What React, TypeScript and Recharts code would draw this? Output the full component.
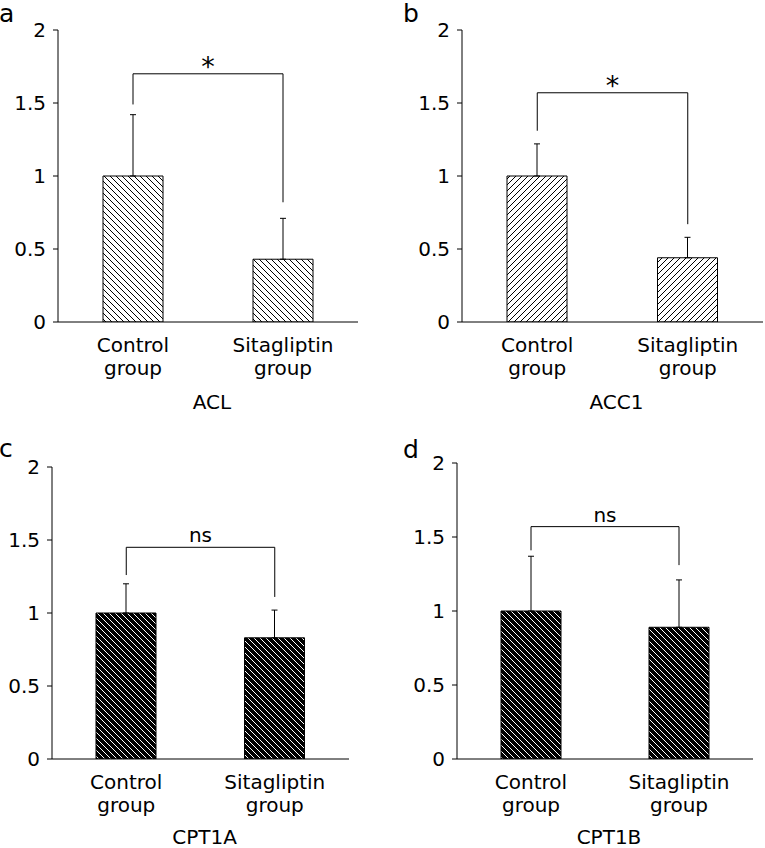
import React from 'react';
import { BarChart, Bar, XAxis, YAxis, ErrorBar, ReferenceLine } from 'recharts';

const categories = ['Control group', 'Sitagliptin group'];
const yTicks = [0, 0.5, 1, 1.5, 2];
const boundaryTicks = [0, 1, 2];

const aclMeans = [1.0, 0.43];
const aclErrors = [0.42, 0.28];
const acc1Means = [1.0, 0.44];
const acc1Errors = [0.22, 0.14];
const cpt1aMeans = [1.0, 0.83];
const cpt1aErrors = [0.2, 0.19];
const cpt1bMeans = [1.0, 0.89];
const cpt1bErrors = [0.37, 0.32];

// [left leg end, bracket top, right leg end]
const aclBracket = [1.49, 1.7, 0.82];
const acc1Bracket = [1.31, 1.57, 0.67];
const cpt1aBracket = [1.26, 1.45, 1.11];
const cpt1bBracket = [1.41, 1.57, 1.31];

const FONT = '"DejaVu Sans", Verdana, sans-serif';
const FS = 20;

const buildData = (means: number[], errors: number[]) =>
  categories.map((c, i) => ({ name: c, value: means[i], err: [0, errors[i]] }));

const CategoryTick = (props: any) => {
  const { x, y, payload } = props;
  const parts = String(payload.value).split(' ');
  return (
    <text x={x} y={y} textAnchor="middle" fontSize={FS} fontFamily={FONT} fill="#000">
      <tspan x={x} y={y + 25}>{parts[0]}</tspan>
      <tspan x={x} y={y + 48}>{parts[1]}</tspan>
    </text>
  );
};

const AxisTitle = (props: any) => {
  const { viewBox, value, dy } = props;
  if (!viewBox) return null;
  return (
    <text x={viewBox.x + viewBox.width / 2 + 4} y={viewBox.y + dy} textAnchor="middle" fontSize={FS} fontFamily={FONT} fill="#000">
      {value}
    </text>
  );
};

type PanelProps = {
  id: string;
  left: number;
  top: number;
  width: number;
  height: number;
  margin: { top: number; right: number; bottom: number; left: number };
  means: number[];
  errors: number[];
  bracket: number[];
  sig: string;
  sigSize: number;
  sigOffset: number;
  title: string;
  titleDy: number;
  pattern: 'back' | 'fwd' | 'dark';
};

const Panel = (p: PanelProps) => {
  const data = buildData(p.means, p.errors);
  const pid = `pat-${p.id}`;
  let patternEl;
  if (p.pattern === 'back') {
    patternEl = (
      <pattern id={pid} patternUnits="userSpaceOnUse" width="6" height="6">
        <rect width="6" height="6" fill="#fff" />
        <path d="M-1,-1 L7,7 M-1,5 L1,7 M5,-1 L7,1" stroke="#000" strokeWidth="1" />
      </pattern>
    );
  } else if (p.pattern === 'fwd') {
    patternEl = (
      <pattern id={pid} patternUnits="userSpaceOnUse" width="6" height="6">
        <rect width="6" height="6" fill="#fff" />
        <path d="M-1,7 L7,-1 M-1,1 L1,-1 M5,7 L7,5" stroke="#000" strokeWidth="1" />
      </pattern>
    );
  } else {
    patternEl = (
      <pattern id={pid} patternUnits="userSpaceOnUse" width="6" height="6">
        <rect width="6" height="6" fill="#000" />
        <path d="M-1,-1 L7,7 M-1,5 L1,7 M5,-1 L7,1" stroke="#fff" strokeWidth="1" />
      </pattern>
    );
  }
  return (
    <div style={{ position: 'absolute', left: p.left, top: p.top, width: p.width, height: p.height }}>
      <BarChart width={p.width} height={p.height} data={data} margin={p.margin}>
        <defs>{patternEl}</defs>
        <XAxis
          xAxisId="b_cat"
          dataKey="name"
          type="category"
          height={75}
          axisLine={false}
          tickLine={false}
          tickSize={0}
          tickMargin={0}
          interval={0}
          tick={<CategoryTick />}
          label={<AxisTitle value={p.title} dy={p.titleDy} />}
        />
        <XAxis
          xAxisId="a_ticks"
          type="number"
          domain={[0, 2]}
          ticks={boundaryTicks}
          height={5}
          tick={false}
          tickSize={5}
          axisLine={{ stroke: '#000', strokeWidth: 1 }}
          tickLine={{ stroke: '#000', strokeWidth: 1 }}
        />
        <YAxis
          width={50}
          domain={[0, 2]}
          ticks={yTicks}
          tickSize={5}
          tickMargin={7}
          axisLine={{ stroke: '#000', strokeWidth: 1 }}
          tickLine={{ stroke: '#000', strokeWidth: 1 }}
          tick={{ fill: '#000', fontSize: FS, fontFamily: FONT }}
          allowDataOverflow
        />
        <Bar
          xAxisId="b_cat"
          dataKey="value"
          barSize={60}
          fill={`url(#${pid})`}
          stroke="#000"
          strokeWidth={1}
          isAnimationActive={false}
        >
          <ErrorBar dataKey="err" width={3} stroke="#000" strokeWidth={1} direction="y" />
        </Bar>
        <ReferenceLine
          xAxisId="b_cat"
          segment={[{ x: categories[0], y: p.bracket[0] }, { x: categories[0], y: p.bracket[1] }]}
          stroke="#000"
          strokeWidth={1}
          ifOverflow="visible"
        />
        <ReferenceLine
          xAxisId="b_cat"
          segment={[{ x: categories[1], y: p.bracket[2] }, { x: categories[1], y: p.bracket[1] }]}
          stroke="#000"
          strokeWidth={1}
          ifOverflow="visible"
        />
        <ReferenceLine
          xAxisId="b_cat"
          segment={[{ x: categories[0], y: p.bracket[1] }, { x: categories[1], y: p.bracket[1] }]}
          stroke="#000"
          strokeWidth={1}
          ifOverflow="visible"
          label={{ value: p.sig, position: 'top', offset: p.sigOffset, fontSize: p.sigSize, fill: '#000', fontFamily: FONT }}
        />
      </BarChart>
    </div>
  );
}

export default function App() {
  return (
    <div style={{ position: 'absolute', left: 0, top: 0, width: 765, height: 848, background: '#fff', overflow: 'hidden' }}>
      <Panel
        id="a" left={0} top={0} width={380} height={420}
        margin={{ top: 30, right: 22, bottom: 18, left: 8 }}
        means={aclMeans} errors={aclErrors} bracket={aclBracket}
        sig="*" sigSize={27} sigOffset={-2} title="ACL" titleDy={82} pattern="back"
      />
      <Panel
        id="b" left={380} top={0} width={385} height={420}
        margin={{ top: 30, right: 2, bottom: 18, left: 32 }}
        means={acc1Means} errors={acc1Errors} bracket={acc1Bracket}
        sig="*" sigSize={27} sigOffset={-2} title="ACC1" titleDy={82} pattern="fwd"
      />
      <Panel
        id="c" left={0} top={420} width={380} height={428}
        margin={{ top: 47, right: 31, bottom: 9, left: 2 }}
        means={cpt1aMeans} errors={cpt1aErrors} bracket={cpt1aBracket}
        sig="ns" sigSize={FS} sigOffset={5} title="CPT1A" titleDy={80} pattern="dark"
      />
      <Panel
        id="d" left={380} top={420} width={385} height={428}
        margin={{ top: 43, right: 12, bottom: 9, left: 27 }}
        means={cpt1bMeans} errors={cpt1bErrors} bracket={cpt1bBracket}
        sig="ns" sigSize={FS} sigOffset={5} title="CPT1B" titleDy={80} pattern="dark"
      />
      <svg width={765} height={848} style={{ position: 'absolute', left: 0, top: 0, pointerEvents: 'none' }}>
        <text x={-1} y={22} fontSize={25} fontFamily={FONT} fill="#000">a</text>
        <text x={403} y={22} fontSize={25} fontFamily={FONT} fill="#000">b</text>
        <text x={-1} y={457} fontSize={25} fontFamily={FONT} fill="#000">c</text>
        <text x={403} y={458} fontSize={25} fontFamily={FONT} fill="#000">d</text>
      </svg>
    </div>
  );
}
